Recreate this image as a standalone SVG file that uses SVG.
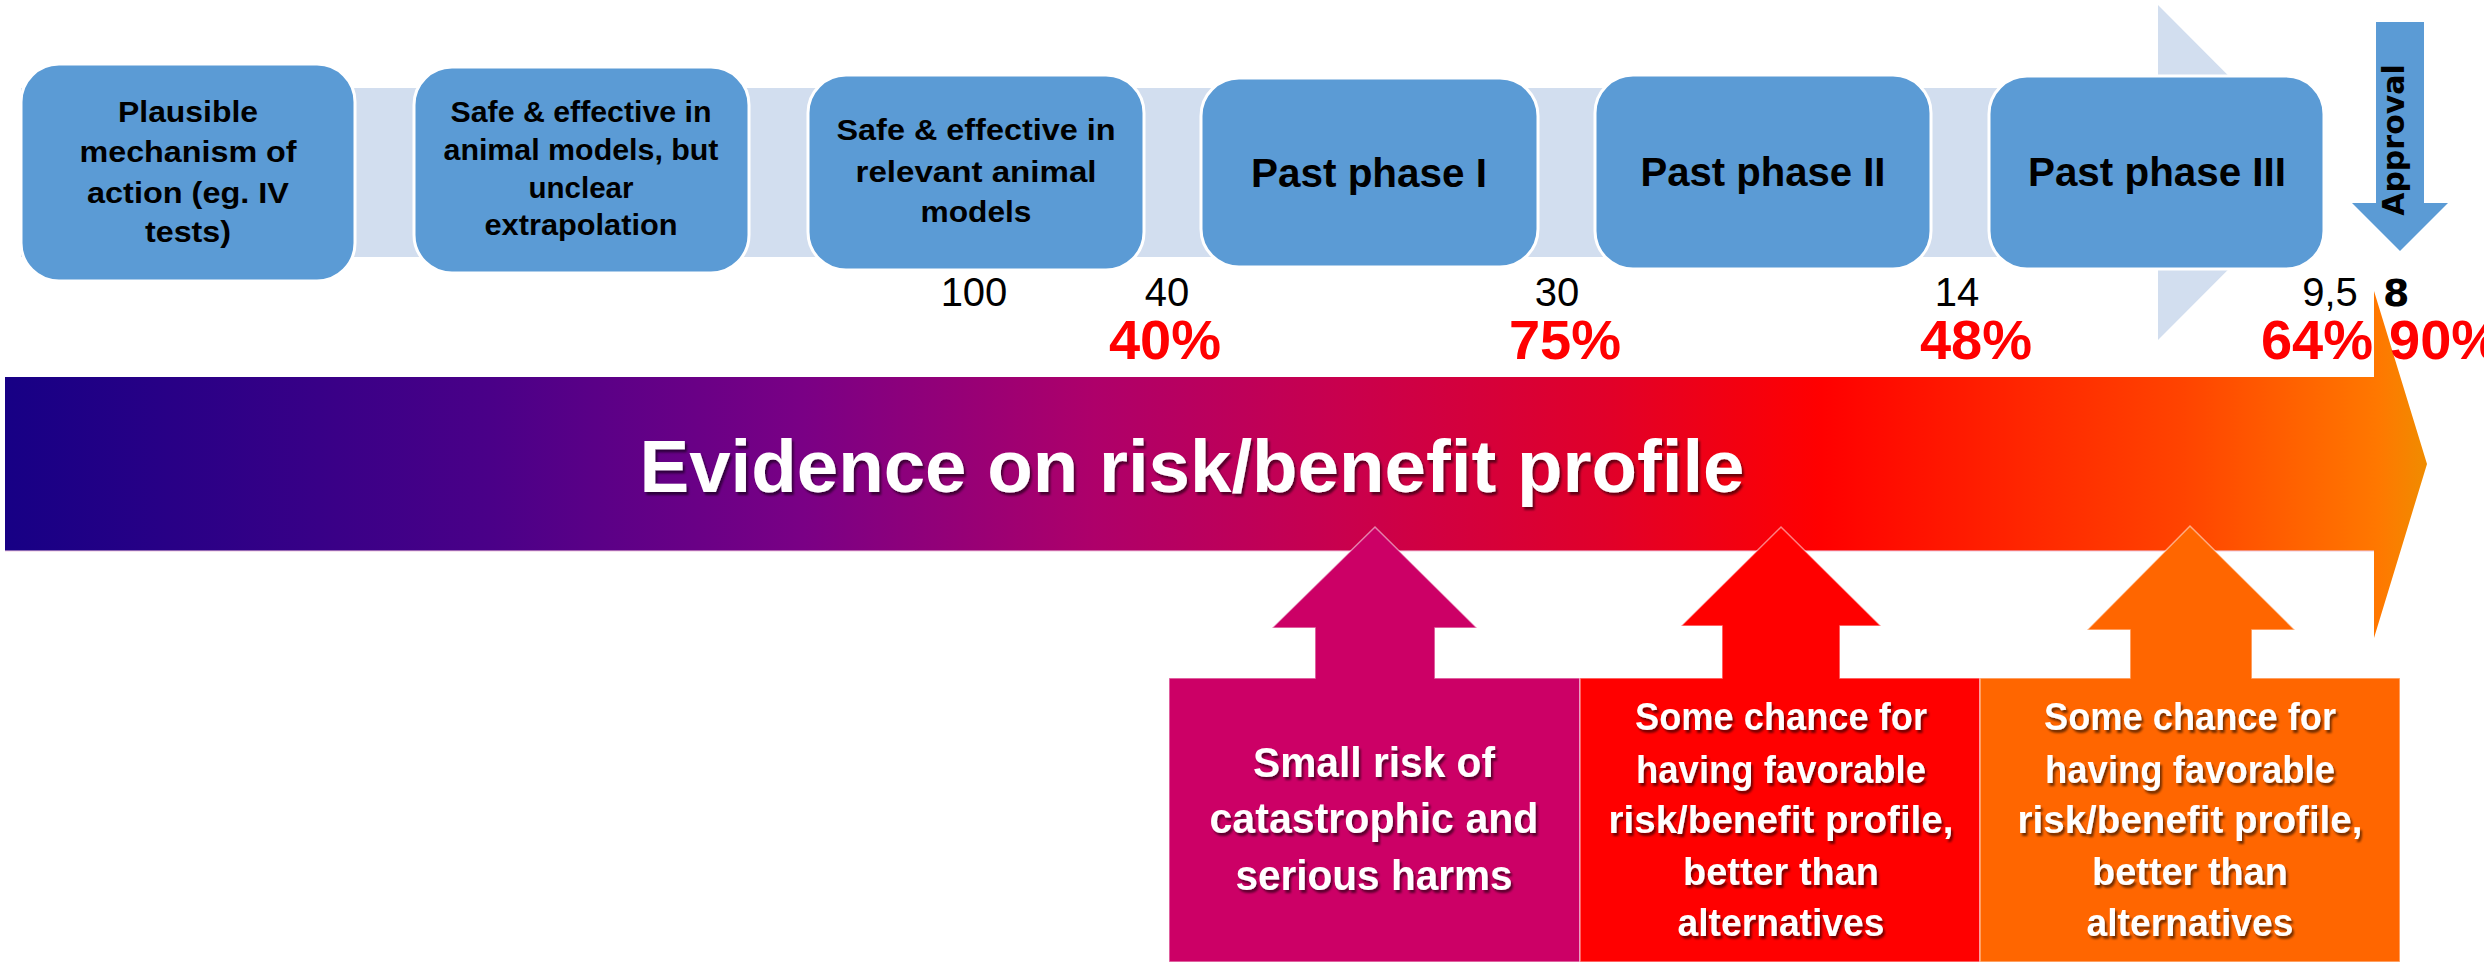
<svg xmlns="http://www.w3.org/2000/svg" width="2484" height="966" viewBox="0 0 2484 966">
<defs>
<linearGradient id="barGrad" gradientUnits="userSpaceOnUse" x1="5" y1="0" x2="2427" y2="0">
<stop offset="0" stop-color="#170085"/>
<stop offset="0.2" stop-color="#4a0088"/>
<stop offset="0.33" stop-color="#7a0085"/>
<stop offset="0.45" stop-color="#ae006a"/>
<stop offset="0.55" stop-color="#c8004e"/>
<stop offset="0.66" stop-color="#e0002a"/>
<stop offset="0.75" stop-color="#ff0000"/>
<stop offset="0.9" stop-color="#ff4400"/>
<stop offset="0.98" stop-color="#ff7800"/>
<stop offset="1" stop-color="#f08c00"/>
</linearGradient>
<filter id="shadow" x="-10%" y="-30%" width="120%" height="160%">
<feDropShadow dx="2" dy="3" stdDeviation="1" flood-color="#000000" flood-opacity="0.55"/>
</filter>
<style>
.step{fill:#5b9bd5;stroke:#ffffff;stroke-width:3}
.band{fill:#d2deef}
.bt{font-family:"Liberation Sans",Arial,sans-serif;font-weight:bold;fill:#000000;text-anchor:middle}
.s29{font-size:29px}
.s40{font-size:40px}
.num{font-family:"Liberation Sans",Arial,sans-serif;font-size:40px;fill:#000000;text-anchor:middle}
.pct{font-family:"Liberation Sans",Arial,sans-serif;font-size:56px;font-weight:bold;fill:#ff0000;text-anchor:middle}
.wt{font-family:"Liberation Sans",Arial,sans-serif;font-weight:bold;fill:#ffffff;text-anchor:middle;filter:url(#shadow)}
.edge{stroke:#ffffff;stroke-opacity:0.5;stroke-width:1.5}
</style>
</defs>
<rect width="2484" height="966" fill="#ffffff"/>

<g id="process-band">
<path class="band" d="M21,88 H2158 V5 L2325,172.5 L2158,340 V257 H21 Z"/>
</g>

<g id="step1">
<rect class="step" x="21" y="64" width="334" height="217" rx="38"/>
<text class="bt s29"><tspan x="188" y="122" textLength="140" lengthAdjust="spacingAndGlyphs">Plausible</tspan><tspan x="188" y="162" textLength="217" lengthAdjust="spacingAndGlyphs">mechanism of</tspan><tspan x="188" y="203" textLength="202" lengthAdjust="spacingAndGlyphs">action (eg. IV</tspan><tspan x="188" y="242" textLength="86" lengthAdjust="spacingAndGlyphs">tests)</tspan></text>
</g>
<g id="step2">
<rect class="step" x="414" y="67" width="335" height="206" rx="38"/>
<text class="bt s29"><tspan x="581" y="122" textLength="261" lengthAdjust="spacingAndGlyphs">Safe &amp; effective in</tspan><tspan x="581" y="160" textLength="275" lengthAdjust="spacingAndGlyphs">animal models, but</tspan><tspan x="581" y="198" textLength="105" lengthAdjust="spacingAndGlyphs">unclear</tspan><tspan x="581" y="235" textLength="193" lengthAdjust="spacingAndGlyphs">extrapolation</tspan></text>
</g>
<g id="step3">
<rect class="step" x="808" y="75" width="336" height="195" rx="38"/>
<text class="bt s29"><tspan x="976" y="140" textLength="279" lengthAdjust="spacingAndGlyphs">Safe &amp; effective in</tspan><tspan x="976" y="182" textLength="241" lengthAdjust="spacingAndGlyphs">relevant animal</tspan><tspan x="976" y="222" textLength="111" lengthAdjust="spacingAndGlyphs">models</tspan></text>
</g>
<g id="step4">
<rect class="step" x="1201" y="78" width="337" height="189" rx="38"/>
<text class="bt s40" x="1369" y="187" textLength="236" lengthAdjust="spacingAndGlyphs">Past phase I</text>
</g>
<g id="step5">
<rect class="step" x="1595" y="75" width="336" height="194" rx="38"/>
<text class="bt s40" x="1763" y="186" textLength="245" lengthAdjust="spacingAndGlyphs">Past phase II</text>
</g>
<g id="step6">
<rect class="step" x="1989" y="76" width="335" height="193" rx="38"/>
<text class="bt s40" x="2157" y="186" textLength="258" lengthAdjust="spacingAndGlyphs">Past phase III</text>
</g>

<g id="counts">
<text class="num" x="974" y="306">100</text>
<text class="num" x="1167" y="306">40</text>
<text class="num" x="1557" y="306">30</text>
<text class="num" x="1957" y="306">14</text>
<text class="num" x="2330" y="306">9,5</text>
</g>

<g id="evidence-arrow">
<path d="M5,377 H2374 V291 L2427,464 L2374,638 V551 H5 Z" fill="url(#barGrad)"/>
<line x1="5" y1="551" x2="2374" y2="551" stroke="#f0c8e0" stroke-width="1.5" stroke-opacity="0.7"/>
<text class="wt" x="1192" y="492" font-size="75" textLength="1105" lengthAdjust="spacingAndGlyphs">Evidence on risk/benefit profile</text>
</g>

<g id="percentages">
<text class="pct" x="1165" y="359">40%</text>
<text class="pct" x="1565" y="359">75%</text>
<text class="pct" x="1976" y="359">48%</text>
<text class="pct" x="2317" y="359">64%</text>
<text class="pct" x="2389" y="359" style="text-anchor:start">90%</text>
</g>

<g id="approval">
<path d="M2376,22 H2424 V203 H2448 L2400,251 L2352,203 H2376 Z" fill="#5b9bd5"/>
<text transform="translate(2404,140) rotate(-90)" x="0" y="0" font-family="'DejaVu Sans',Verdana,sans-serif" font-weight="bold" font-size="30" text-anchor="middle" fill="#000000">Approval</text>
<text x="2383" y="306" font-family="'DejaVu Sans',Verdana,sans-serif" font-weight="bold" font-size="38" fill="#000000">8</text>
</g>

<g id="harms">
<path class="edge" d="M1169,678 H1315 V628 H1272 L1375,527 L1477,628 H1435 V678 H1580 V962 H1169 Z" fill="#cc0066"/>
<text class="wt" font-size="42"><tspan x="1374" y="777" textLength="242" lengthAdjust="spacingAndGlyphs">Small risk of</tspan><tspan x="1374" y="833" textLength="329" lengthAdjust="spacingAndGlyphs">catastrophic and</tspan><tspan x="1374" y="890" textLength="277" lengthAdjust="spacingAndGlyphs">serious harms</tspan></text>
</g>
<g id="chance1">
<path class="edge" d="M1580,678 H1722 V626 H1681 L1781,527 L1881,626 H1840 V678 H1980 V962 H1580 Z" fill="#ff0000"/>
<text class="wt" font-size="38"><tspan x="1781" y="730" textLength="292" lengthAdjust="spacingAndGlyphs">Some chance for</tspan><tspan x="1781" y="783" textLength="290" lengthAdjust="spacingAndGlyphs">having favorable</tspan><tspan x="1781" y="833" textLength="345" lengthAdjust="spacingAndGlyphs">risk/benefit profile,</tspan><tspan x="1781" y="885" textLength="196" lengthAdjust="spacingAndGlyphs">better than</tspan><tspan x="1781" y="936" textLength="207" lengthAdjust="spacingAndGlyphs">alternatives</tspan></text>
</g>
<g id="chance2">
<path class="edge" d="M1980,678 H2130 V630 H2087 L2190,526 L2295,630 H2252 V678 H2400 V962 H1980 Z" fill="#ff6600"/>
<text class="wt" font-size="38"><tspan x="2190" y="730" textLength="292" lengthAdjust="spacingAndGlyphs">Some chance for</tspan><tspan x="2190" y="783" textLength="290" lengthAdjust="spacingAndGlyphs">having favorable</tspan><tspan x="2190" y="833" textLength="345" lengthAdjust="spacingAndGlyphs">risk/benefit profile,</tspan><tspan x="2190" y="885" textLength="196" lengthAdjust="spacingAndGlyphs">better than</tspan><tspan x="2190" y="936" textLength="207" lengthAdjust="spacingAndGlyphs">alternatives</tspan></text>
</g>
</svg>
